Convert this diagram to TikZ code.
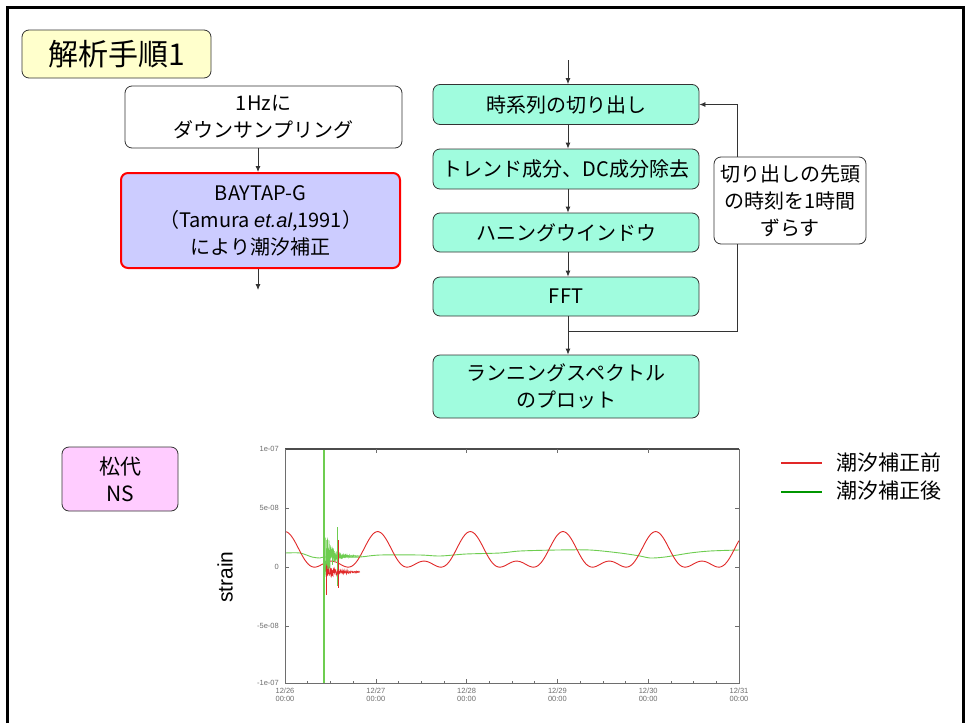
\documentclass[tikz,border=0pt]{standalone}
\usepackage{fontspec}
\setmainfont{Noto Sans CJK JP}
\newfontfamily\lat{Liberation Sans}
\usetikzlibrary{arrows.meta}
\definecolor{tealbox}{RGB}{160,252,222}
\definecolor{lavbox}{RGB}{204,204,255}
\definecolor{yelbox}{RGB}{255,255,204}
\definecolor{pinkbox}{RGB}{255,204,255}
\definecolor{plotred}{RGB}{225,40,40}
\definecolor{plotgreen}{RGB}{110,205,80}
\definecolor{leggreen}{RGB}{0,150,0}
\definecolor{axgray}{RGB}{110,110,110}
\begin{document}
\begin{tikzpicture}[x=1pt,y=-1pt,
  box/.style={draw=black!80, line width=0.8pt, rounded corners=7pt, align=center, inner sep=0pt,
              font=\fontsize{20}{27}\selectfont},
  arr/.style={draw=black!80, line width=0.8pt, -{Latex[length=6pt,width=5pt]}},
  lnk/.style={draw=black!80, line width=0.8pt},
  tick/.style={font=\lat\fontsize{7.5}{8}\selectfont, text=axgray, inner sep=0pt, align=center}]
\useasboundingbox (0,0) rectangle (965,723);
\fill[white] (0,0) rectangle (965,723);
% frame
\draw[line width=3pt] (7,723) -- (7,7) -- (963,7) -- (963,723);

% title
\node[box, fill=yelbox, minimum width=189pt, minimum height=48pt, font=\fontsize{30}{30}\selectfont] (title) at (116.5,54) {解析手順1};

% left column
\node[box, fill=white, minimum width=277pt, minimum height=62pt] (b1) at (263.5,117) {1Hzに\\ダウンサンプリング};
\node[box, fill=lavbox, draw=red, line width=2pt, minimum width=279pt, minimum height=95pt] (b2) at (260.5,220.5)
  {BAYTAP-G\\（Tamura {\lat\itshape et.al},1991）\\により潮汐補正};
\coordinate (lx) at (258,0);
\coordinate (lend) at (258,290);
\draw[arr] (b1.south -| lx) -- (b2.north -| lx);
\draw[arr] (b2.south -| lx) -- (lend);

% right column
\node[box, fill=tealbox, minimum width=266pt, minimum height=40pt] (A) at (566,104.5) {時系列の切り出し};
\node[box, fill=tealbox, minimum width=266pt, minimum height=40pt] (B) at (566,169) {トレンド成分、DC成分除去};
\node[box, fill=tealbox, minimum width=266pt, minimum height=39pt] (C) at (566,232.5) {ハニングウインドウ};
\node[box, fill=tealbox, minimum width=266pt, minimum height=39pt] (D) at (566,296.5) {FFT};
\node[box, fill=tealbox, minimum width=266pt, minimum height=63pt] (E) at (566,386.5) {ランニングスペクトル\\のプロット};
\node[box, fill=white, minimum width=152pt, minimum height=87pt] (S) at (790,200.5) {切り出しの先頭\\の時刻を1時間\\ずらす};

\coordinate (rtop) at (568,60);
\coordinate (rx) at (568,0);
\coordinate (j) at (568,331);
\coordinate (sx) at (737,0);
\draw[arr] (rtop) -- (A.north -| rx);
\draw[arr] (A.south -| rx) -- (B.north -| rx);
\draw[arr] (B.south -| rx) -- (C.north -| rx);
\draw[arr] (C.south -| rx) -- (D.north -| rx);
\draw[lnk] (D.south -| rx) -- (j) -- (j -| sx) -- (S.south -| sx);
\draw[arr] (S.north -| sx) -- (sx |- A.east) -- (A.east);
\draw[arr] (j) -- (E.north -| rx);

% station box
\node[box, fill=pinkbox, minimum width=116pt, minimum height=64pt, font=\fontsize{21}{27}\selectfont] (ns) at (120,479) {松代\\NS};

% plot
\pgfmathsetseed{7}
\begin{scope}
\clip (285,449) rectangle (739,683);
% green base
\draw[plotgreen, line width=0.9pt] plot[smooth] coordinates {(285,553) (300,553) (312,557) (320,558) (324,557)
  (345,557) (360,557) (380,555) (420,555) (440,556) (466,554) (500,553) (520,551) (557,550) (590,550)
  (620,553) (640,556) (650,558) (665,557) (690,553) (710,551) (739,550)};
% red tidal curve
\draw[plotred, line width=0.9pt] plot[domain=0:5, samples=400, variable=\t]
  ({285+90.8*\t}, {567 - 11.8*(1.0 + 1.25*cos(360*0.98*\t) + 0.75*cos(720*0.98*\t))});
% green burst
\draw[plotgreen, line width=0.5pt] plot[domain=324:362, samples=260, variable=\x] (\x, {556 + 32*exp(-(\x-324)/7)*rand});
\draw[plotgreen, line width=2pt] (324,449) -- (324,683);
\draw[plotgreen, line width=1pt] (337,527) -- (337,586);
% red post-quake noise
\draw[plotred, line width=0.5pt] plot[domain=326:360, samples=160, variable=\x] (\x, {572 + 8*exp(-(\x-326)/12)*rand});
\draw[plotred, line width=1pt] (326,567) -- (326,595);
\draw[plotred, line width=0.8pt] (338,540) -- (338,588);
\end{scope}
% axes frame
\draw[axgray, line width=0.8pt] (285,449) rectangle (739,683);
\draw[black!70, line width=1.6pt] (285,449) -- (739,449);
\foreach \i in {0,...,5} {
  \draw[axgray, line width=0.6pt] ({285+90.8*\i},683) -- ({285+90.8*\i},679);
  \draw[axgray, line width=0.6pt] ({285+90.8*\i},449) -- ({285+90.8*\i},453);
}
\foreach \i in {1,...,19} {
  \draw[axgray, line width=0.5pt] ({285+22.7*\i},683) -- ({285+22.7*\i},681);
}
\foreach \yy in {508,567,626} {
  \draw[axgray, line width=0.6pt] (285,\yy) -- (289,\yy);
  \draw[axgray, line width=0.6pt] (739,\yy) -- (735,\yy);
}
% tick labels
\node[tick, anchor=east] (t1) at (279,449) {1e-07};
\node[tick, anchor=east] (t2) at (279,508) {5e-08};
\node[tick, anchor=east] (t3) at (279,567) {0};
\node[tick, anchor=east] (t4) at (279,626) {-5e-08};
\node[tick, anchor=east] (t5) at (279,683) {-1e-07};
\node[tick] (d0) at (285,695) {12/26\\00:00};
\node[tick] (d1) at (375.8,695) {12/27\\00:00};
\node[tick] (d2) at (466.6,695) {12/28\\00:00};
\node[tick] (d3) at (557.4,695) {12/29\\00:00};
\node[tick] (d4) at (648.2,695) {12/30\\00:00};
\node[tick] (d5) at (739,695) {12/31\\00:00};
\node[rotate=90, font=\lat\fontsize{21}{21}\selectfont, inner sep=0pt] (ylab) at (225,577) {strain};

% legend
\coordinate (r1) at (781,463);
\coordinate (r2) at (822,463);
\coordinate (g1) at (781,492);
\coordinate (g2) at (822,492);
\draw[plotred, line width=1.2pt] (r1) -- (r2);
\draw[leggreen, line width=1.2pt] (g1) -- (g2);
\node[font=\fontsize{21}{21}\selectfont, inner sep=0pt, anchor=west] (lr) at (836,462) {潮汐補正前};
\node[font=\fontsize{21}{21}\selectfont, inner sep=0pt, anchor=west] (lg) at (836,491) {潮汐補正後};
\end{tikzpicture}
\end{document}
